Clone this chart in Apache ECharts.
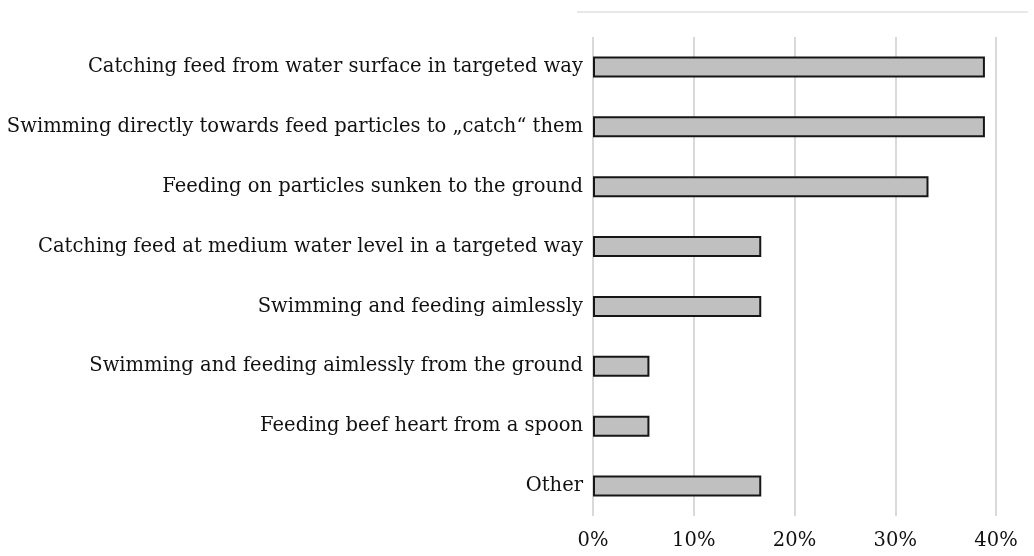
<!DOCTYPE html>
<html>
<head>
<meta charset="utf-8">
<script src="https://cdn.jsdelivr.net/npm/echarts@6/dist/echarts.min.js"></script>
<style>
  html, body { margin: 0; padding: 0; background: #fff; }
  #chart { width: 1034px; height: 556px; }
</style>
</head>
<body>
<div id="chart"></div>
<script>
// categories, top to bottom as in the picture
var categories = [
    'Catching feed from water surface in targeted way',
    'Swimming directly towards feed particles to \u201ecatch\u201c them',
    'Feeding on particles sunken to the ground',
    'Catching feed at medium water level in a targeted way',
    'Swimming and feeding aimlessly',
    'Swimming and feeding aimlessly from the ground',
    'Feeding beef heart from a spoon',
    'Other'
];
// share of answers, %
var shares = [38.9, 38.9, 33.3, 16.7, 16.7, 5.6, 5.6, 16.7];
var xTicks = [0, 10, 20, 30, 40];

var myChart = echarts.init(document.getElementById('chart'));

var option = {
    backgroundColor: '#ffffff',
    animation: false,
    textStyle: { fontFamily: 'DejaVu Serif' },
    grid: { left: 593, right: 38, top: 37, bottom: 40 },
    graphic: [{
        type: 'line',
        shape: { x1: 577, y1: 12, x2: 1028, y2: 12 },
        style: { stroke: '#e0e0e0', lineWidth: 1.5 }
    }],
    xAxis: {
        type: 'value',
        min: xTicks[0],
        max: xTicks[xTicks.length - 1],
        interval: 10,
        axisLine: { show: false },
        axisTick: { show: false },
        splitLine: { show: true, lineStyle: { color: '#d9d9d9', width: 2 } },
        axisLabel: {
            fontSize: 19.5,
            color: '#111',
            margin: 15,
            fontFamily: 'DejaVu Serif',
            formatter: function (v) { return v + '%'; }
        }
    },
    yAxis: {
        type: 'category',
        inverse: true,
        data: categories,
        axisLine: { show: false },
        axisTick: { show: false },
        axisLabel: {
            fontSize: 19.5,
            color: '#111',
            margin: 10,
            fontFamily: 'DejaVu Serif'
        }
    },
    series: [{
        type: 'bar',
        data: shares,
        barWidth: 21,
        itemStyle: {
            color: '#c0c0c0',
            borderColor: '#161616',
            borderWidth: 2
        }
    }]
};

myChart.setOption(option);
</script>
</body>
</html>
